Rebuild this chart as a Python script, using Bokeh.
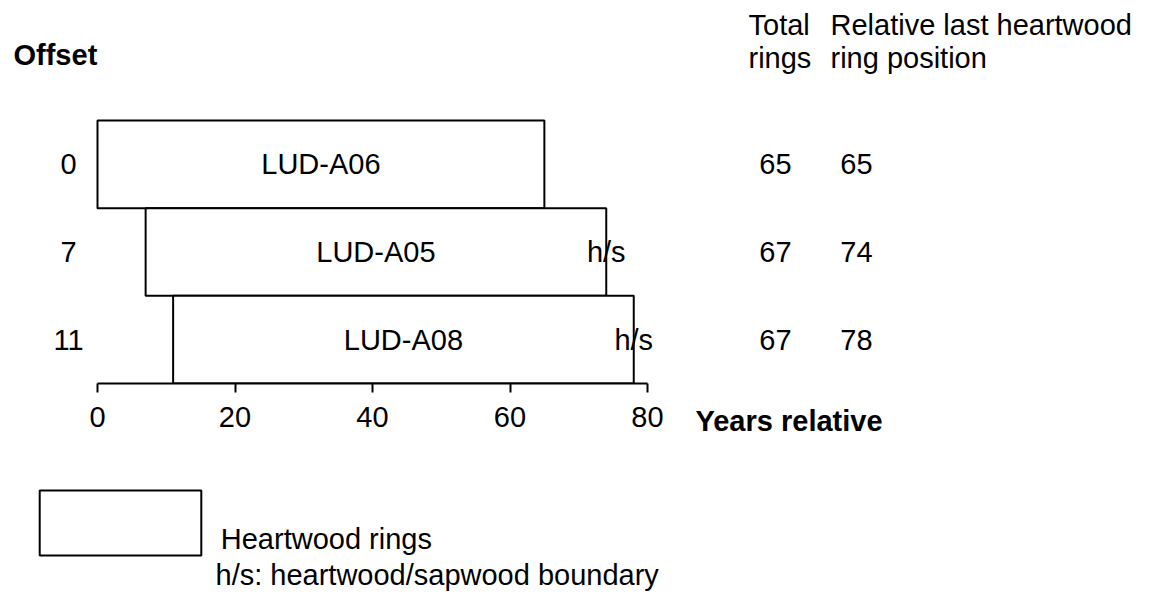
from bokeh.plotting import figure
from bokeh.layouts import row, column
from bokeh.models import (Range1d, FixedTicker, Legend, LegendItem,
                          ColumnDataSource)
from bokeh.embed import file_html
from bokeh.resources import INLINE
from bokeh.core.properties import value

# ---------------- data ----------------
samples = ["LUD-A06", "LUD-A05", "LUD-A08"]
offsets = [0, 7, 11]
total_rings = [65, 67, 67]
last_heartwood = [65, 74, 78]
hs_boundary = [False, True, True]
x_ticks = [0, 20, 40, 60, 80]

# ---------------- layout helpers (canvas pixel -> data) ----------------
TOTAL_W, TOTAL_H = 1138, 592
SPLIT_X = 680               # canvas x where the right-hand table panel starts
SPLIT_Y = 445               # canvas y where the legend panel starts
FRAME_BOTTOM = 383          # canvas y of axis line
X0 = 97                     # canvas x of year 0
PX_PER_YEAR = 550 / 80.0
ROW_PX = 87.67

def dx(px):
    return (px - X0) / PX_PER_YEAR

def dy(py):
    return (FRAME_BOTTOM - py) / ROW_PX

FONT = "Liberation Sans"
FS = "29px"

def base_fig(w, h, xr, yr, **kw):
    f = figure(width=w, height=h, output_backend="svg", toolbar_location=None,
               x_range=xr, y_range=yr, min_border_left=0, min_border_right=0,
               min_border_top=0, y_axis_location=None, **kw)
    f.outline_line_color = None
    f.xgrid.visible = False
    f.ygrid.visible = False
    f.background_fill_color = "white"
    f.border_fill_color = "white"
    return f

left_w = SPLIT_X
right_w = TOTAL_W - left_w
top_h = SPLIT_Y
bot_h = TOTAL_H - top_h

# ---- main chart (boxes + axis) ----
p = base_fig(left_w, top_h, Range1d(dx(0), dx(SPLIT_X)), Range1d(0, dy(0)),
             min_border_bottom=SPLIT_Y - FRAME_BOTTOM)

n = len(samples)
rows = list(range(n))
bottoms = [n - 1 - i for i in rows]
tops = [n - i for i in rows]
centers = [n - 0.5 - i for i in rows]
rights = [o + t for o, t in zip(offsets, total_rings)]

src = ColumnDataSource(dict(left=offsets, right=rights, bottom=bottoms, top=tops,
                            cx=[(o + r) / 2 for o, r in zip(offsets, rights)],
                            cy=centers, name=samples,
                            off_txt=[str(o) for o in offsets],
                            tot_txt=[str(t) for t in total_rings],
                            last_txt=[str(l) for l in last_heartwood]))

box_style = dict(fill_color="white", line_color="black", line_width=2)
boxes = p.quad(left="left", right="right", bottom="bottom", top="top", source=src,
               **box_style)

common = dict(text_font=value(FONT), text_font_size=FS, text_color="black",
              text_baseline="middle")

p.text(x="cx", y="cy", text="name", source=src, text_align="center", **common)

hs_x = [r for r, b in zip(last_heartwood, hs_boundary) if b]
hs_y = [c for c, b in zip(centers, hs_boundary) if b]
p.text(x=hs_x, y=hs_y, text=["h/s"] * len(hs_x), text_align="center", **common)

p.text(x=dx(68), y="cy", text="off_txt", source=src, text_align="center", **common)

hdr = dict(text_font=value(FONT), text_font_size=FS, text_color="black",
           text_baseline="middle", text_align="left")
p.text(x=[dx(13)], y=[dy(54)], text=["Offset"], text_font_style="bold", **hdr)

ax = p.xaxis[0]
ax.ticker = FixedTicker(ticks=x_ticks)
ax.bounds = (x_ticks[0], x_ticks[-1])
ax.axis_line_width = 2
ax.axis_line_color = "black"
ax.major_tick_line_width = 2
ax.major_tick_line_color = "black"
ax.major_tick_out = 9
ax.major_tick_in = 0
ax.minor_tick_out = 0
ax.minor_tick_in = 0
ax.major_label_text_font = FONT
ax.major_label_text_font_size = FS
ax.major_label_text_color = "black"
ax.major_label_standoff = 14

# ---- right-hand table ----
pr = base_fig(right_w, TOTAL_H, Range1d(dx(SPLIT_X), dx(TOTAL_W)),
              Range1d(dy(TOTAL_H), dy(0)), min_border_bottom=0,
              x_axis_location=None)
pr.text(x=dx(775), y="cy", text="tot_txt", source=src, text_align="center", **common)
pr.text(x=dx(856), y="cy", text="last_txt", source=src, text_align="center", **common)
pr.text(x=[dx(748), dx(748), dx(830), dx(830)],
        y=[dy(24), dy(57), dy(24), dy(57)],
        text=["Total", "rings", "Relative last heartwood", "ring position"], **hdr)
pr.text(x=[dx(695)], y=[dy(420)], text=["Years relative"], text_font_style="bold", **hdr)

# ---- legend panel ----
pl = base_fig(left_w, bot_h, Range1d(dx(0), dx(SPLIT_X)),
              Range1d(dy(TOTAL_H), dy(SPLIT_Y)), min_border_bottom=0,
              x_axis_location=None)
# same boxes (they lie outside this panel's view); used as the legend's swatch
swatch = pl.quad(left="left", right="right", bottom="bottom", top="top", source=src,
                 **box_style)
ROW_H = 81
LEG_TOP = 482
legend = Legend(items=[LegendItem(label="\nHeartwood rings", renderers=[swatch], index=0)],
                location=(18.8, TOTAL_H - LEG_TOP - ROW_H),
                glyph_width=202, glyph_height=ROW_H, label_height=ROW_H,
                padding=0, margin=0, spacing=0, label_standoff=-6,
                border_line_color=None, background_fill_alpha=0,
                label_text_font=FONT, label_text_font_size=FS,
                label_text_color="black")
pl.add_layout(legend)
pl.text(x=[dx(215)], y=[dy(574)], text=["h/s: heartwood/sapwood boundary"], **hdr)

layout = row(column(p, pl, spacing=0), pr, spacing=0)
open("out.html", "w").write(file_html(layout, INLINE))
